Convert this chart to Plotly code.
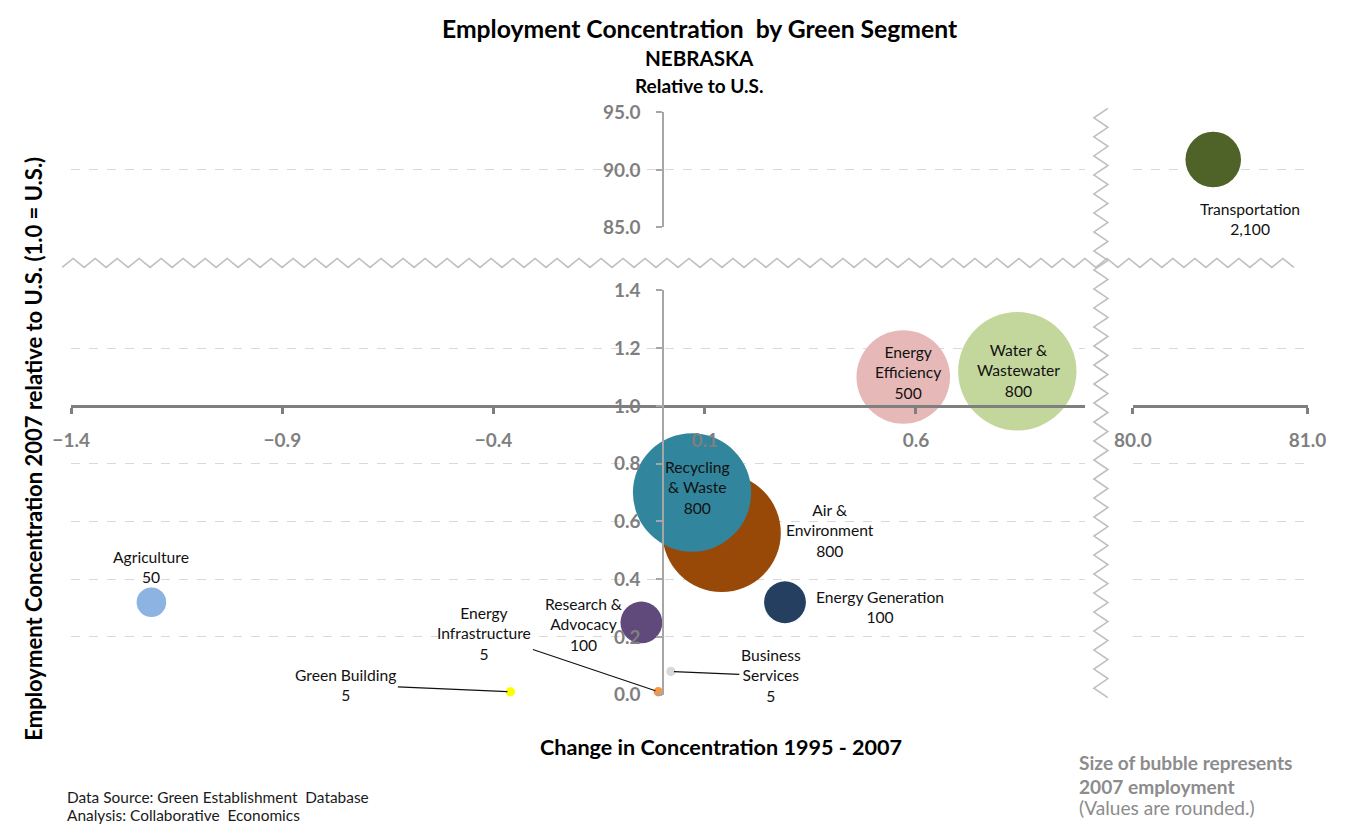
import plotly.graph_objects as go

# ---------------- data ----------------
segments = ["Agriculture", "Green Building", "Energy Infrastructure", "Business Services",
            "Research & Advocacy", "Air & Environment", "Recycling & Waste",
            "Energy Generation", "Energy Efficiency", "Water & Wastewater"]
label_names = ["Agriculture", "Green Building", "Energy<br>Infrastructure", "Business<br>Services",
               "Research &<br>Advocacy", "Air &<br>Environment", "Recycling<br>& Waste",
               "Energy Generation", "Energy<br>Efficiency", "Water &<br>Wastewater"]
change_1995_2007 = [-1.21, -0.36, -0.01, 0.02, -0.05, 0.14, 0.07, 0.29, 0.57, 0.84]
concentration_2007 = [0.32, 0.01, 0.01, 0.08, 0.25, 0.56, 0.70, 0.32, 1.10, 1.12]
employment_2007 = [50, 5, 5, 5, 100, 800, 800, 100, 500, 800]

outlier_segment = ["Transportation"]
outlier_change = [80.46]
outlier_concentration = [90.9]
outlier_employment = [2100]

x_ticks_main = [-1.4, -0.9, -0.4, 0.1, 0.6]
x_ticks_break = [80.0, 81.0]
y_ticks_low = [0.0, 0.2, 0.4, 0.6, 0.8, 1.0, 1.2, 1.4]
y_ticks_high = [85.0, 90.0, 95.0]

# ---------------- style ----------------
colors = ["#8db3e2", "#ffff00", "#f79646", "#d9d9d9", "#604a7b", "#984807",
          "#31859c", "#243f60", "#e6b9b8", "#c3d69b"]
outlier_color = ["#4f6228"]
FONT = "Lato, sans-serif"
GRAY = "#7f7f7f"
GRID = "#d9d9d9"

W, H = 1345, 835
# layout is designed in picture pixels; the page is photographed slightly reduced
# around its centre, so design coordinates are expanded by K around the centre.
K = 1 / 0.972
CX, CY = W / 2, H / 2
def fx(x):
    return (x - CX) * K + CX
def fy(y):
    return (y - CY) * K + CY
def px(x):
    return fx(x) / W
def py(y):
    return 1 - fy(y) / H
def S(v):
    return v * K

x_main_range = [-1.4, 1.0]
x_break_range = [80.0, 81.0]
y_low_range = [0.0, 1.4]
y_high_range = [85.0, 95.0]

dom_x_main = [px(71), px(1085)]
dom_x_break = [px(1133), 1326 / W]
dom_y_low = [py(694), py(290)]
dom_y_high = [py(227), py(112)]

# x axis crosses at y = 1.0, y axis crosses at x = 0
xcross = dom_y_low[0] + (1.0 - y_low_range[0]) / (y_low_range[1] - y_low_range[0]) * (dom_y_low[1] - dom_y_low[0])
ycross = dom_x_main[0] + (0 - x_main_range[0]) / (x_main_range[1] - x_main_range[0]) * (dom_x_main[1] - dom_x_main[0])

tickfont = dict(family=FONT, size=S(18.5), color=GRAY, weight="bold")

fig = go.Figure()

# empty traces to create the extra panels
fig.add_trace(go.Scatter(x=[], y=[], xaxis="x2", yaxis="y2", showlegend=False, hoverinfo="skip"))
fig.add_trace(go.Scatter(x=[], y=[], xaxis="x3", yaxis="y3", showlegend=False, hoverinfo="skip"))

bubble_ref = 2 * 800 / S(115) ** 2
fig.add_trace(go.Scatter(
    x=change_1995_2007, y=concentration_2007, mode="markers", text=segments,
    marker=dict(size=employment_2007, sizemode="area", sizeref=bubble_ref,
                color=colors, opacity=1, line=dict(width=0)),
    xaxis="x", yaxis="y", showlegend=False, cliponaxis=False,
    hovertemplate="%{text}<extra></extra>"))

fig.add_trace(go.Scatter(
    x=outlier_change, y=outlier_concentration, mode="markers", text=outlier_segment,
    marker=dict(size=outlier_employment, sizemode="area", sizeref=2 * 2100 / S(54) ** 2,
                color=outlier_color, opacity=1, line=dict(width=0)),
    xaxis="x4", yaxis="y4", showlegend=False, cliponaxis=False,
    hovertemplate="%{text}<extra></extra>"))

hidden_x = dict(showline=False, showticklabels=False, ticks="", showgrid=False, zeroline=False)

fig.update_layout(
    width=W, height=H, margin=dict(l=0, r=0, t=0, b=0),
    plot_bgcolor="white", paper_bgcolor="white",
    font=dict(family=FONT),
    xaxis=dict(domain=dom_x_main, range=x_main_range, anchor="free", position=xcross,
               showline=True, linecolor=GRAY, linewidth=3, ticks="outside", ticklen=S(6),
               tickwidth=3, tickcolor=GRAY, tickvals=x_ticks_main, tickformat=".1f",
               tickfont=tickfont, ticklabelstandoff=10, showgrid=False, zeroline=False),
    yaxis=dict(domain=dom_y_low, range=y_low_range, anchor="free", position=ycross,
               showline=True, linecolor="#a6a6a6", linewidth=2, ticks="outside", ticklen=S(5),
               tickwidth=2, tickcolor="#a6a6a6", tickvals=y_ticks_low, tickformat=".1f",
               tickfont=tickfont, ticklabelstandoff=12, showgrid=True, gridcolor=GRID,
               griddash="dash", gridwidth=1, zeroline=False),
    xaxis2=dict(domain=dom_x_main, range=x_main_range, anchor="y2", **hidden_x),
    yaxis2=dict(domain=dom_y_high, range=y_high_range, anchor="free", position=ycross,
                showline=True, linecolor="#a6a6a6", linewidth=2, ticks="outside", ticklen=S(5),
                tickwidth=2, tickcolor="#a6a6a6", tickvals=y_ticks_high, tickformat=".1f",
                tickfont=tickfont, ticklabelstandoff=12, showgrid=True, gridcolor=GRID,
                griddash="dash", gridwidth=1, zeroline=False),
    xaxis3=dict(domain=dom_x_break, range=x_break_range, anchor="free", position=xcross,
                showline=True, linecolor=GRAY, linewidth=3, ticks="outside", ticklen=S(6),
                tickwidth=3, tickcolor=GRAY, tickvals=x_ticks_break, tickformat=".1f",
                tickfont=tickfont, ticklabelstandoff=10, showgrid=False, zeroline=False),
    yaxis3=dict(domain=dom_y_low, range=y_low_range, anchor="x3", showline=False,
                showticklabels=False, ticks="", tickvals=y_ticks_low, showgrid=True,
                gridcolor=GRID, griddash="dash", gridwidth=1, zeroline=False),
    xaxis4=dict(domain=dom_x_break, range=x_break_range, anchor="y4", **hidden_x),
    yaxis4=dict(domain=dom_y_high, range=y_high_range, anchor="x4", showline=False,
                showticklabels=False, ticks="", tickvals=y_ticks_high, showgrid=True,
                gridcolor=GRID, griddash="dash", gridwidth=1, zeroline=False),
)

# ---------------- break (zigzag) lines ----------------
def zigzag_h(x0, x1, ytop, ybot, period):
    pts = []
    x = x0
    up = False
    while x <= x1:
        pts.append((px(x), py(ytop if up else ybot)))
        up = not up
        x += period / 2
    return "M " + " L ".join(f"{a:.5f},{b:.5f}" for a, b in pts)

def zigzag_v(y0, y1, xl, xr, period):
    pts = []
    y = y0
    right = True
    while y <= y1:
        pts.append((px(xr if right else xl), py(y)))
        right = not right
        y += period / 2
    return "M " + " L ".join(f"{a:.5f},{b:.5f}" for a, b in pts)

zig_style = dict(type="path", xref="paper", yref="paper", line=dict(color="#bfbfbf", width=1.6))
fig.add_shape(path=zigzag_h(62, 1300, 258, 267, 22), **zig_style)
fig.add_shape(path=zigzag_v(108, 697, 1094, 1108, 19), **zig_style)

# ---------------- data labels ----------------
label_font = dict(family=FONT, size=S(15.2), color="#111111")
# (dx, dy, leader) in pixels, dy positive downward
label_offsets = {
    "Agriculture": (0, -34, False),
    "Green Building": (-160, -7, True),
    "Energy Infrastructure": (-169, -57, True),
    "Business Services": (97, 4, True),
    "Research & Advocacy": (-56, 2, False),
    "Air & Environment": (105, -2, False),
    "Recycling & Waste": (5, -5, False),
    "Energy Generation": (92, 5, False),
    "Energy Efficiency": (5, -4, False),
    "Water & Wastewater": (1, -1, False),
}
for name, lab, xv, yv, emp in zip(segments, label_names, change_1995_2007, concentration_2007, employment_2007):
    dx, dy, leader = label_offsets[name]
    text = f"{lab}<br>{emp:,}"
    if leader:
        fig.add_annotation(x=xv, y=yv, xref="x", yref="y", text=text, showarrow=True,
                           arrowhead=0, arrowwidth=1.2, arrowcolor="#111111", ax=S(dx), ay=S(dy),
                           standoff=3, font=label_font, align="center")
    else:
        fig.add_annotation(x=xv, y=yv, xref="x", yref="y", text=text, showarrow=False,
                           xshift=S(dx), yshift=-S(dy), font=label_font, align="center")

for name, xv, yv, emp in zip(outlier_segment, outlier_change, outlier_concentration, outlier_employment):
    fig.add_annotation(x=xv, y=yv, xref="x4", yref="y4", text=f"{name}<br>{emp:,}",
                       showarrow=False, xshift=S(36), yshift=-S(58), font=label_font, align="center")

# ---------------- titles & notes ----------------
def note(text, x, y, size, color="#000000", bold=True, anchor="center", angle=0):
    fig.add_annotation(x=px(x), y=py(y), xref="paper", yref="paper", text=text,
                       showarrow=False, xanchor=anchor, yanchor="middle", textangle=angle,
                       font=dict(family=FONT, size=S(size), color=color,
                                 weight="bold" if bold else "normal"))

note("Employment Concentration  by Green Segment", 700, 28, 24)
note("NEBRASKA", 700, 58, 20)
note("Relative to U.S.", 700, 85, 18.5)
note("Change in Concentration 1995 - 2007", 721, 746, 21)
note("Employment Concentration 2007 relative to U.S. (1.0 = U.S.)", 33, 448, 21.4, angle=-90)
note("Data Source: Green Establishment  Database", 65, 796, 15, color="#1a1a1a", bold=False, anchor="left")
note("Analysis: Collaborative  Economics", 65, 814, 15, color="#1a1a1a", bold=False, anchor="left")
note("Size of bubble represents", 1077, 762, 18.6, color="#8c8c8c", anchor="left")
note("2007 employment", 1077, 786, 18.6, color="#8c8c8c", anchor="left")
note("(Values are rounded.)", 1077, 807, 18.6, color="#8c8c8c", bold=False, anchor="left")

fig.write_html("out.html", config={"displayModeBar": False},
               post_script="document.body.style.margin='0';document.body.style.overflow='hidden';")
